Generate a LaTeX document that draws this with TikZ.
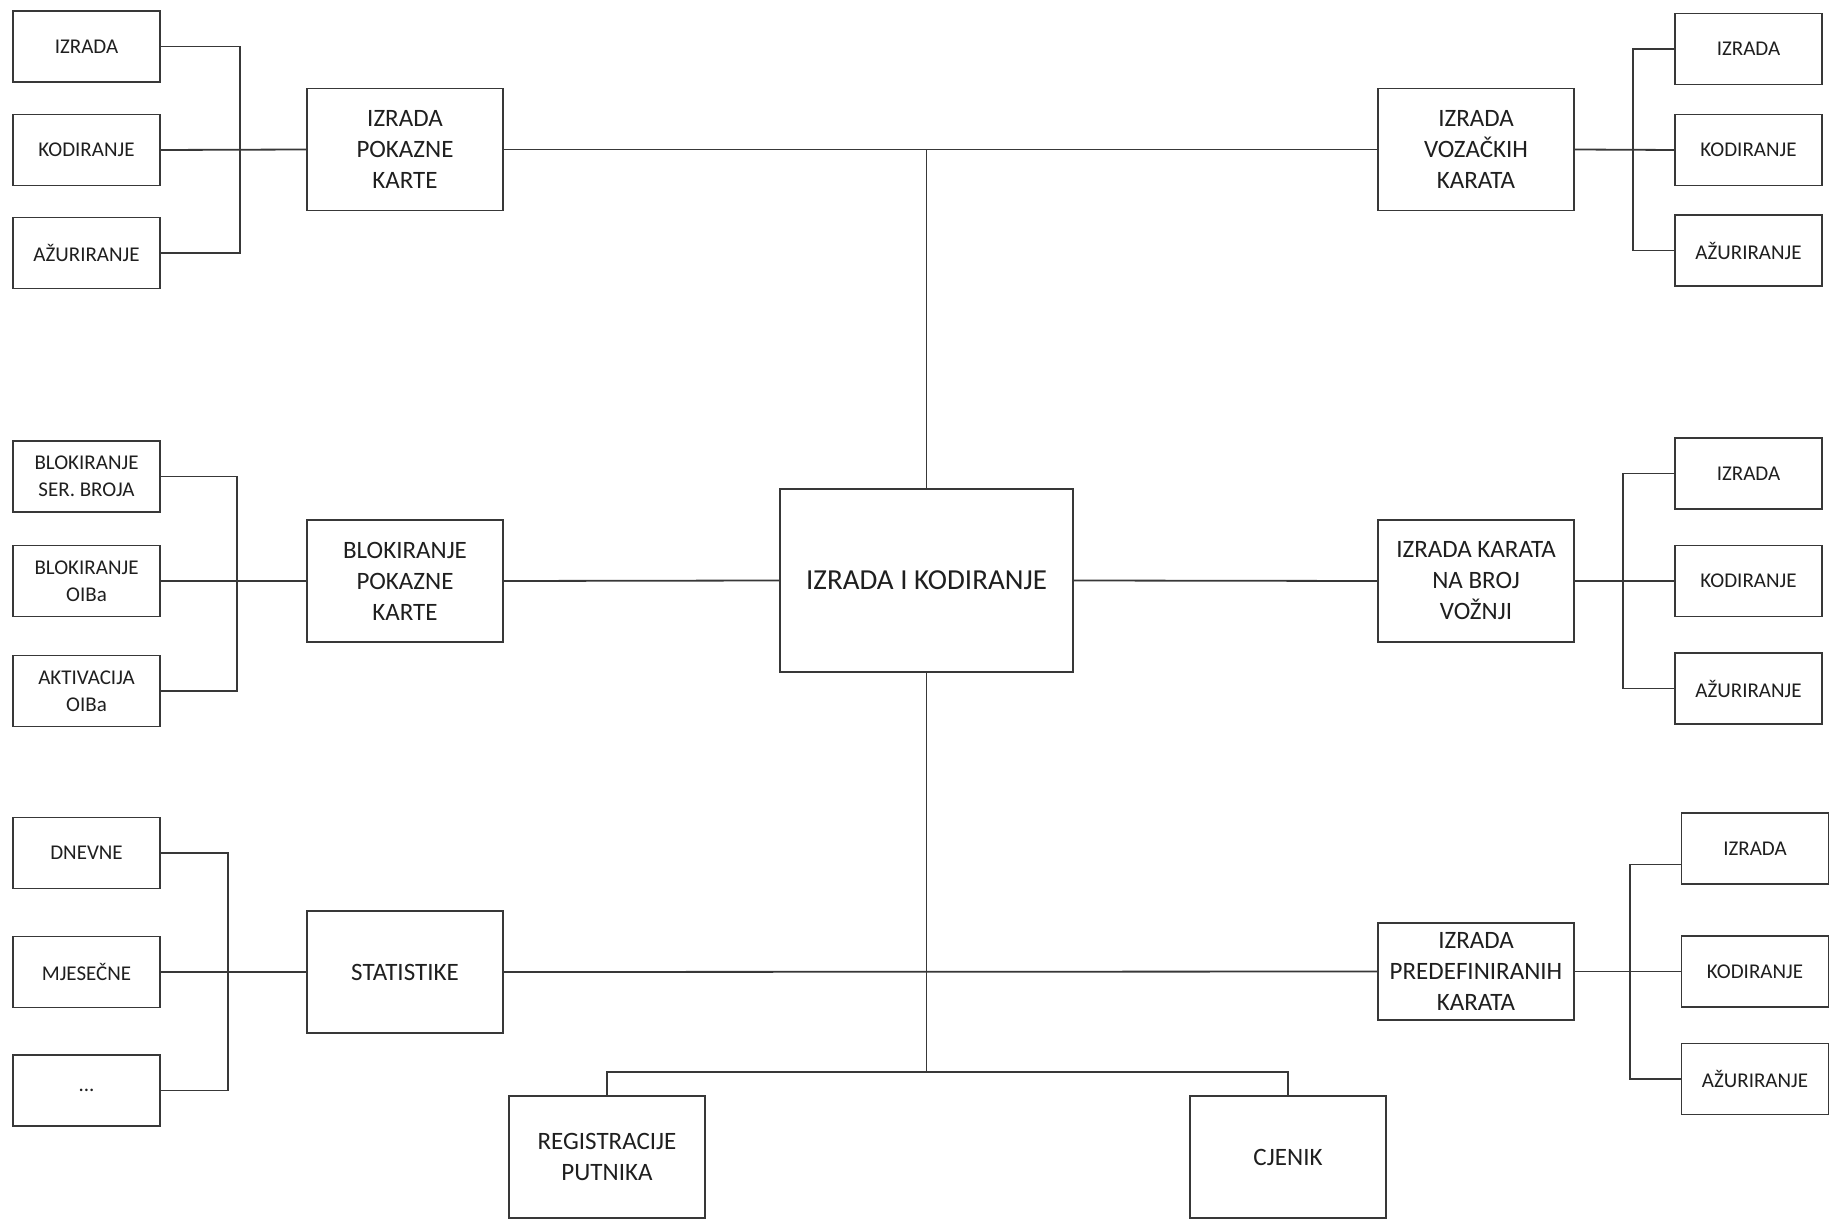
\documentclass[tikz,border=0pt]{standalone}
\usepackage{fontspec}
\setmainfont{Carlito}
\begin{document}
\begin{tikzpicture}[x=0.5pt,y=-0.5pt,
  ln/.style={draw=black!78,line width=0.9pt},
  leaf/.style={ln,fill=white,minimum width=73.5pt,minimum height=35.5pt,inner sep=0pt,align=center,
    font=\fontsize{10.5}{13.3}\selectfont,text=black!88},
  mid/.style={ln,fill=white,minimum width=98pt,minimum height=61pt,inner sep=0pt,align=center,
    font=\fontsize{12.5}{15.5}\selectfont,text=black!88},
  hub/.style={ln,fill=white,minimum width=146.5pt,minimum height=91.5pt,inner sep=0pt,align=center,
    font=\fontsize{14.5}{17}\selectfont,text=black!88}]
\useasboundingbox (0,0) rectangle (1831,1224);

% ---- hub ----
\node[hub] (hub) at (926.5,580.5) {IZRADA I KODIRANJE};

% ---- parents ----
\node[mid] (p1) at (405,149.5) {IZRADA\\POKAZNE\\KARTE};
\node[mid] (p2) at (1476,149.5) {IZRADA\\VOZAČKIH\\KARATA};
\node[mid] (p3) at (405,581) {BLOKIRANJE\\POKAZNE\\KARTE};
\node[mid] (p4) at (1476,581) {IZRADA KARATA\\NA BROJ\\VOŽNJI};
\node[mid] (p5) at (405,972) {STATISTIKE};
\node[mid,minimum height=48.5pt] (p6) at (1476,971.5) {IZRADA\\PREDEFINIRANIH\\KARATA};
\node[mid] (reg) at (607,1157) {REGISTRACIJE\\PUTNIKA};
\node[mid] (cje) at (1288,1157) {CJENIK};

% ---- leaves: top left ----
\node[leaf] (a1) at (86.5,46.5) {IZRADA};
\node[leaf] (a2) at (86.5,150) {KODIRANJE};
\node[leaf] (a3) at (86.5,253) {AŽURIRANJE};
% top right
\node[leaf] (b1) at (1748.5,49) {IZRADA};
\node[leaf] (b2) at (1748.5,150) {KODIRANJE};
\node[leaf] (b3) at (1748.5,250.5) {AŽURIRANJE};
% mid left
\node[leaf] (c1) at (86.5,476.5) {BLOKIRANJE\\SER. BROJA};
\node[leaf] (c2) at (86.5,581) {BLOKIRANJE\\OIBa};
\node[leaf] (c3) at (86.5,691) {AKTIVACIJA\\OIBa};
% mid right
\node[leaf] (d1) at (1748.5,473.5) {IZRADA};
\node[leaf] (d2) at (1748.5,581) {KODIRANJE};
\node[leaf] (d3) at (1748.5,688.5) {AŽURIRANJE};
% bottom left
\node[leaf] (e1) at (86.5,853) {DNEVNE};
\node[leaf] (e2) at (86.5,972) {MJESEČNE};
\node[leaf] (e3) at (86.5,1090.5) {...};
% bottom right
\node[leaf] (f1) at (1755,848.5) {IZRADA};
\node[leaf] (f2) at (1755,971.5) {KODIRANJE};
\node[leaf] (f3) at (1755,1079) {AŽURIRANJE};

% ---- bus coordinates ----
\coordinate (ba) at (240,150);
\coordinate (bb) at (1633,150);
\coordinate (bc) at (237,581);
\coordinate (bd) at (1623,581);
\coordinate (be) at (228,972);
\coordinate (bf) at (1630,971.5);
\coordinate (bot) at (926.5,1072);

% ---- leaf connectors ----
\draw[ln] (a1.east) -| (ba) |- (a3.east);
\draw[ln] (a2.east) -- (p1.west);
\draw[ln] (b1.west) -| (bb) |- (b3.west);
\draw[ln] (p2.east) -- (b2.west);
\draw[ln] (c1.east) -| (bc) |- (c3.east);
\draw[ln] (c2.east) -- (p3.west);
\draw[ln] (d1.west) -| (bd) |- (d3.west);
\draw[ln] (p4.east) -- (d2.west);
\draw[ln] (e1.east) -| (be) |- (e3.east);
\draw[ln] (e2.east) -- (p5.west);
\draw[ln] ([yshift=-8pt]f1.west) -| (bf) |- (f3.west);
\draw[ln] (p6.east) -- (f2.west);

% ---- main connectors ----
\draw[ln] (p1.east) -- (p2.west);
\draw[ln] (hub.north) -- (hub.north |- p1.east);
\draw[ln] (p3.east) -- (hub.west);
\draw[ln] (hub.east) -- (p4.west);
\draw[ln] (p5.east) -- (p6.west);
\draw[ln] (hub.south) -- (bot);
\draw[ln] (reg.north) |- (bot) -| (cje.north);
\end{tikzpicture}
\end{document}
